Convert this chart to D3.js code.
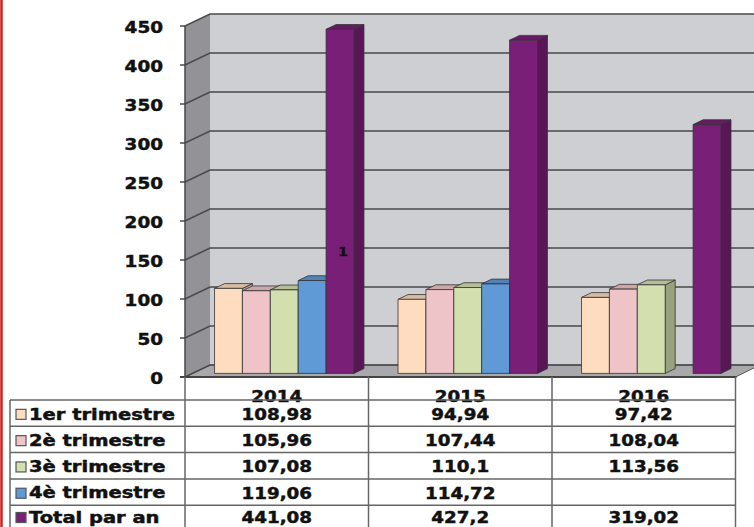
<!DOCTYPE html>
<html>
<head>
<meta charset="utf-8">
<script src="https://cdn.jsdelivr.net/npm/d3@7"></script>
<style>
  html, body { margin: 0; padding: 0; background: #fff; }
  svg { display: block; }
  text { font-family: 'DejaVu Sans', sans-serif; font-weight: bold; fill: #111; }
</style>
</head>
<body>
<svg class="chart" width="754" height="527"></svg>
<script>
// data
const years = ['2014', '2015', '2016']
const series = ['1er trimestre', '2è trimestre', '3è trimestre', '4è trimestre', 'Total par an']
const trim1 = [108.98, 94.94, 97.42]
const trim2 = [105.96, 107.44, 108.04]
const trim3 = [107.08, 110.1, 113.56]
const trim4 = [119.06, 114.72, null]
const totals = [441.08, 427.2, 319.02]
const yTicks = [0, 50, 100, 150, 200, 250, 300, 350, 400, 450]
const cellText = [
  ['108,98', '105,96', '107,08', '119,06', '441,08'],
  ['94,94', '107,44', '110,1', '114,72', '427,2'],
  ['97,42', '108,04', '113,56', '', '319,02']
]
const colors = ['#fddcbf', '#efc4c8', '#d3dfae', '#5f9ad6', '#7a1f78']

const values = [trim1, trim2, trim3, trim4, totals]

// 3d offsets (full depth of the plot box)
const depthX = 25
const depthY = -12

const svg = d3.select('.chart')

const x = d3.scaleBand().domain(years).range([185, 735.5])
const xInner = d3.scaleBand().domain(series).range([0, x.bandwidth()]).paddingOuter(0.79)
const y = d3.scaleLinear().domain([0, 450]).range([377, 26])

/**
 * Screen point for a plot position at a given depth (0 = front, 1 = back)
 *
 * @param {number} px x on the front plane
 * @param {number} py y on the front plane
 * @param {number} z depth
 * @returns {number[]} the point
 */
function pt (px, py, z) {
  return [px + z * depthX, py + z * depthY]
}

/**
 * Adds a bold text, slightly stretched like the original font
 *
 * @param {*} g the parent selection
 * @param {number} tx x position
 * @param {number} ty y position
 * @param {string} str the text
 * @param {string} anchor text anchor
 * @param {number} size font size
 * @param {number} sx horizontal stretch
 */
function addText (g, tx, ty, str, anchor, size, sx) {
  g.append('text')
    .attr('transform', `translate(${tx},${ty}) scale(${sx},1)`)
    .attr('text-anchor', anchor)
    .attr('dominant-baseline', 'central')
    .attr('font-size', size)
    .attr('stroke', '#111')
    .attr('stroke-width', 0.45)
    .text(str)
}

/**
 * Draws the walls, floor and grid of the 3d box
 */
function drawBox () {
  const x0 = 185
  const x1 = 735.5
  const wallRight = 760
  const g = svg.append('g').attr('id', 'box')

  // back wall
  g.append('polygon')
    .attr('points', [pt(x0, y(450), 1), [wallRight, y(450) + depthY], [wallRight, y(0) + depthY], pt(x0, y(0), 1)].join(' '))
    .attr('fill', '#cecfd2')
  // side wall
  g.append('polygon')
    .attr('points', [pt(x0, y(450), 0), pt(x0, y(450), 1), pt(x0, y(0), 1), pt(x0, y(0), 0)].join(' '))
    .attr('fill', '#939397')
  // floor
  g.append('polygon')
    .attr('points', [pt(x0, y(0), 0), pt(x0, y(0), 1), [wallRight, y(0) + depthY], pt(x1, y(0), 0)].join(' '))
    .attr('fill', '#a9a9ab')
    .attr('stroke', '#555')
    .attr('stroke-width', 1)

  // grid lines: on the side wall and the back wall
  yTicks.forEach(function (v) {
    const back = pt(x0, y(v), 1)
    g.append('polyline')
      .attr('points', [[x0 - 5, y(v)], [x0, y(v)], back, [wallRight, back[1]]].join(' '))
      .attr('fill', 'none')
      .attr('stroke', '#4a4a4a')
      .attr('stroke-width', 1.6)
  })

  // front axis line
  g.append('line')
    .attr('x1', x0).attr('x2', x0)
    .attr('y1', y(450)).attr('y2', y(0))
    .attr('stroke', '#444')
    .attr('stroke-width', 1.5)
  g.append('line')
    .attr('x1', x0 - 5).attr('x2', x1 + 1)
    .attr('y1', y(0)).attr('y2', y(0))
    .attr('stroke', '#444')
    .attr('stroke-width', 2)

  // tick labels
  yTicks.forEach(function (v) {
    addText(g, 163, y(v) + 1, v, 'end', 16, 1.15)
  })
}

/**
 * Draws the 3d bars, group by group
 */
function drawBars () {
  const zFront = 0.3
  const zBack = 0.7
  const g = svg.append('g').attr('id', 'bars')
  years.forEach(function (year, i) {
    series.forEach(function (s, j) {
      const v = values[j][i]
      if (v === null) return
      const left = x(year) + xInner(s)
      const right = left + xInner.bandwidth()
      const top = y(v)
      const base = y(0)
      const c = d3.color(colors[j])
      const bar = g.append('g')
      // side
      bar.append('polygon')
        .attr('points', [pt(right, top, zFront), pt(right, top, zBack), pt(right, base, zBack), pt(right, base, zFront)].join(' '))
        .attr('fill', c.darker(0.9))
        .attr('stroke', '#333').attr('stroke-width', 0.8)
      // top
      bar.append('polygon')
        .attr('points', [pt(left, top, zFront), pt(left, top, zBack), pt(right, top, zBack), pt(right, top, zFront)].join(' '))
        .attr('fill', c.darker(0.45))
        .attr('stroke', '#333').attr('stroke-width', 0.8)
      // front
      bar.append('polygon')
        .attr('points', [pt(left, top, zFront), pt(right, top, zFront), pt(right, base, zFront), pt(left, base, zFront)].join(' '))
        .attr('fill', c)
        .attr('stroke', '#333').attr('stroke-width', 0.8)
    })
  })
  // stray label on the first total bar
  addText(g, 343, 251, '1', 'middle', 13, 1.1)
}

/**
 * Draws the data table under the plot
 */
function drawTable () {
  const g = svg.append('g').attr('id', 'table')
  const rowTop = 400
  const rowH = 26.3
  const left = 10
  const right = 735.5
  const rowY = function (r) { return Math.min(rowTop + r * rowH + rowH / 2 + 1.2, 517.5) }

  // years
  years.forEach(function (year) {
    addText(g, x(year) + x.bandwidth() / 2, 396.5, year, 'middle', 15, 1.22)
  })

  // row lines
  d3.range(series.length + 1).forEach(function (r) {
    g.append('line')
      .attr('x1', left).attr('x2', right)
      .attr('y1', rowTop + r * rowH).attr('y2', rowTop + r * rowH)
      .attr('stroke', '#666').attr('stroke-width', 1.5)
  })
  // column lines
  g.append('line')
    .attr('x1', left).attr('x2', left)
    .attr('y1', rowTop).attr('y2', 527)
    .attr('stroke', '#666').attr('stroke-width', 1.5)
  years.concat(['end']).forEach(function (year, i) {
    const cx = i < years.length ? x(year) : right
    g.append('line')
      .attr('x1', cx).attr('x2', cx)
      .attr('y1', y(0)).attr('y2', 527)
      .attr('stroke', '#666').attr('stroke-width', 1.5)
  })

  // legend keys and labels
  series.forEach(function (s, r) {
    const cy = rowY(r)
    g.append('rect')
      .attr('x', 16).attr('y', cy - 5)
      .attr('width', 10).attr('height', 10)
      .attr('fill', colors[r])
      .attr('stroke', '#555').attr('stroke-width', 1.2)
    addText(g, 29, cy, s, 'start', 15, 1.3)
  })

  // values
  years.forEach(function (year, i) {
    cellText[i].forEach(function (t, r) {
      addText(g, x(year) + x.bandwidth() / 2, rowY(r), t, 'middle', 15, 1.22)
    })
  })
}

drawBox()
drawBars()
drawTable()

// red border on the left edge
svg.append('line')
  .attr('x1', 1.5).attr('x2', 1.5)
  .attr('y1', 0).attr('y2', 527)
  .attr('stroke', '#d21f1f')
  .attr('stroke-width', 2.5)
</script>
</body>
</html>
